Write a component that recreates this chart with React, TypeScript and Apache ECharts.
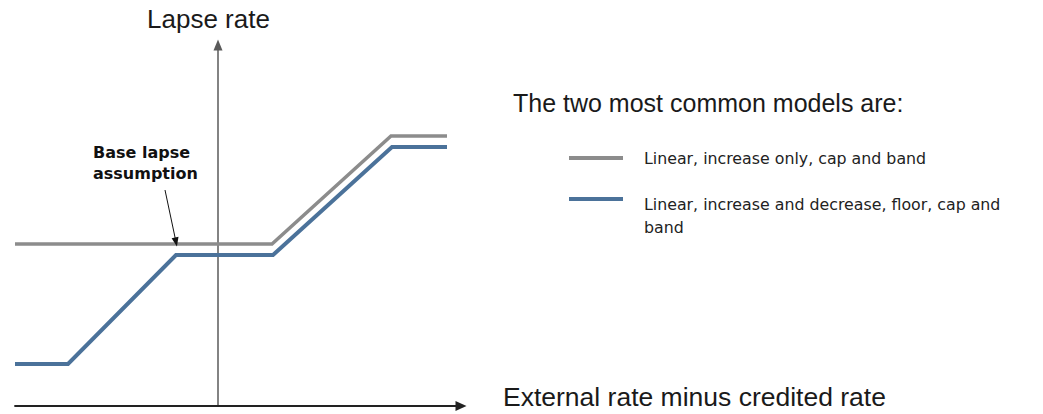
import React, { useEffect, useRef } from "react";
import * as echarts from "echarts";

// Conceptual axes (no ticks); units are arbitrary
const xMin = -203;
const xMax = 243;
const yMin = 0;
const yMax = 361;

const seriesNames = [
  "Linear, increase only, cap and band",
  "Linear, increase and decrease, floor, cap and band",
];
const grayX = [-203, 54, 173, 229];
const grayY = [162, 162, 270, 270];
const blueX = [-203, -150, -42, 55, 174, 229];
const blueY = [42, 42, 151, 151, 259, 259];
const annotationFrom = [-53, 216];
const annotationTo = [-42, 164];

const yAxisName = "Lapse rate";
const xAxisName = "External rate minus credited rate";
const legendTitle = "The two most common models are:";
const annotationLines = ["Base lapse", "assumption"];

const GRAY = "#8c8c8c";
const BLUE = "#4b729a";
const TEXT = "#1a1a1a";

export default function App() {
  const ref = useRef<HTMLDivElement>(null);
  useEffect(() => {
    if (!ref.current) return;
    const chart = echarts.init(ref.current, undefined, { renderer: "svg" });
    const big = { fontFamily: "Liberation Sans", fontSize: 25, fill: TEXT };
    const small = { fontFamily: "DejaVu Sans", fontSize: 15.8, fill: "#222" };
    chart.setOption({
      animation: false,
      backgroundColor: "#ffffff",
      grid: { left: 15, top: 45, width: 446, height: 361, containLabel: false },
      xAxis: {
        type: "value",
        min: xMin,
        max: xMax,
        axisLine: {
          onZero: true,
          symbol: ["none", "triangle"],
          symbolSize: [10, 11],
          lineStyle: { color: "#222", width: 1.8 },
        },
        axisTick: { show: false },
        axisLabel: { show: false },
        splitLine: { show: false },
      },
      yAxis: {
        type: "value",
        min: yMin,
        max: yMax,
        axisLine: {
          show: true,
          onZero: true,
          symbol: ["none", "triangle"],
          symbolSize: [9, 11],
          lineStyle: { color: "#5a5a5a", width: 1.5 },
        },
        axisTick: { show: false },
        axisLabel: { show: false },
        splitLine: { show: false },
      },
      series: [
        {
          name: seriesNames[0],
          type: "line",
          symbol: "none",
          data: grayX.map((x, i) => [x, grayY[i]]),
          lineStyle: { color: GRAY, width: 3.5, join: "miter" },
          itemStyle: { color: GRAY },
          markLine: {
            silent: true,
            symbol: ["none", "triangle"],
            symbolSize: [7, 9],
            label: { show: false },
            lineStyle: { color: "#111", width: 1, type: "solid" },
            data: [[{ coord: annotationFrom }, { coord: annotationTo }]],
          },
        },
        {
          name: seriesNames[1],
          type: "line",
          symbol: "none",
          data: blueX.map((x, i) => [x, blueY[i]]),
          lineStyle: { color: BLUE, width: 4, join: "miter" },
          itemStyle: { color: BLUE },
        },
      ],
      graphic: [
        { type: "text", left: 147, top: 6, style: { ...big, fontSize: 26, text: yAxisName } },
        { type: "text", left: 503, top: 383, style: { ...big, fontSize: 26.5, text: xAxisName } },
        { type: "text", left: 513, top: 90, style: { ...big, text: legendTitle } },
        {
          type: "text",
          left: 93,
          top: 142,
          style: {
            text: annotationLines.join("\n"),
            fontFamily: "DejaVu Sans",
            fontWeight: "bold",
            fontSize: 16,
            lineHeight: 21,
            fill: "#111",
          },
        },
        {
          type: "rect",
          shape: { x: 569, y: 156, width: 54, height: 4 },
          style: { fill: GRAY },
        },
        {
          type: "rect",
          shape: { x: 569, y: 197, width: 54, height: 4 },
          style: { fill: BLUE },
        },
        { type: "text", left: 644, top: 150, style: { ...small, text: seriesNames[0] } },
        {
          type: "text",
          left: 644,
          top: 193,
          style: {
            ...small,
            lineHeight: 23,
            text: "Linear, increase and decrease, floor, cap and\nband",
          },
        },
      ],
    });
    return () => chart.dispose();
  }, []);
  return (
    <div
      ref={ref}
      style={{ position: "absolute", left: 0, top: 0, width: 1043, height: 414 }}
    />
  );
}
